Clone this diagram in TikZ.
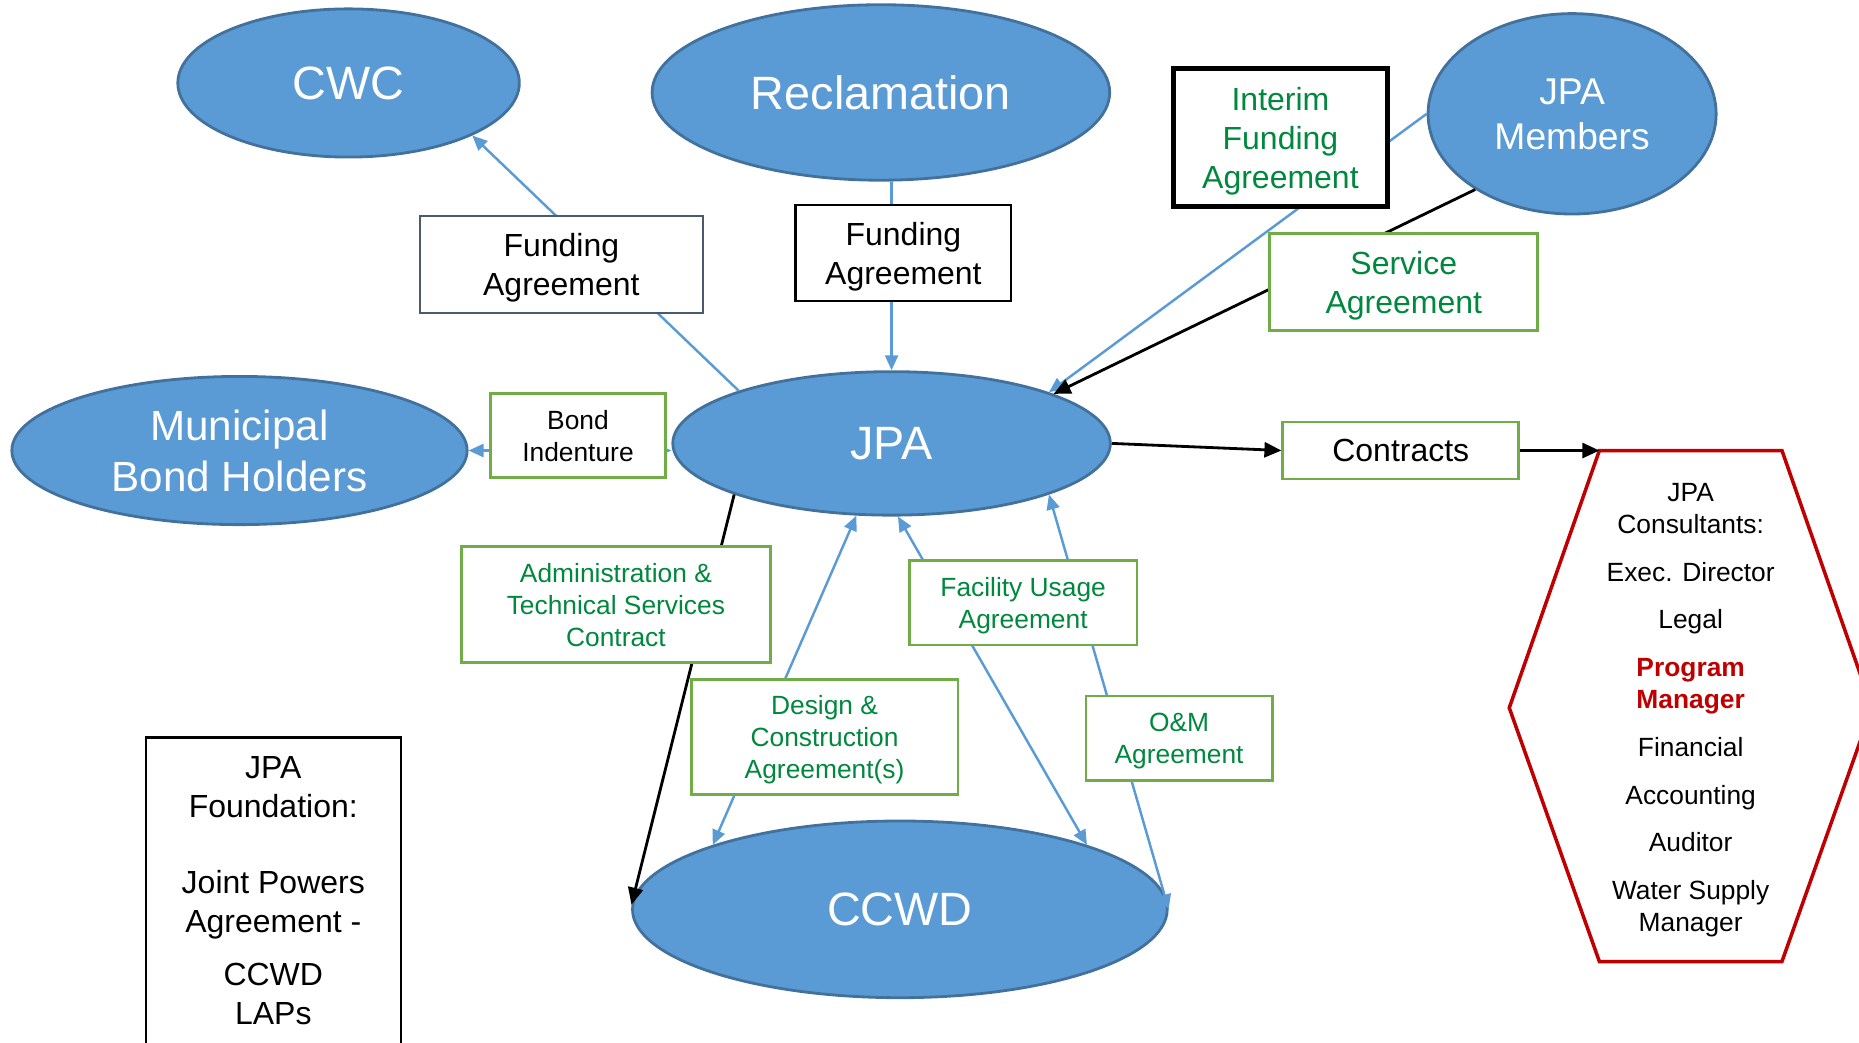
\documentclass[tikz,border=0pt]{standalone}
\usepackage{fontspec}
\setmainfont{Liberation Sans}
\usepackage{tikz}
\usetikzlibrary{shapes.geometric,arrows.meta}
\definecolor{ellfill}{HTML}{5B9BD5}
\definecolor{elldraw}{HTML}{41719C}
\definecolor{boxgreen}{HTML}{70AD47}
\definecolor{txtgreen}{HTML}{00883E}
\definecolor{slate}{HTML}{4A5B70}
\definecolor{pmred}{HTML}{C00000}
\tikzset{
	ell/.style 2 args={ellipse,minimum width=#1,minimum height=#2,inner sep=0pt,draw=elldraw,line width=0.8pt,fill=ellfill,text=white,align=center},
	abox/.style 2 args={rectangle,minimum width=#1,minimum height=#2,inner sep=0pt,draw,fill=white,line width=0.6pt,align=center,text depth=0pt},
	gbox/.style 2 args={abox={#1}{#2},draw=boxgreen,line width=0.8pt},
	bigfont/.style={font=\fontsize{13.3}{16}\selectfont},
	midfont/.style={font=\fontsize{9.1}{11.1}\selectfont},
	smallfont/.style={font=\fontsize{7.5}{9.1}\selectfont},
	bline/.style={draw=ellfill,line width=0.7pt},
	oneway/.style={bline,-{Triangle[length=1.5mm,width=1.3mm]}},
	twoway/.style={bline,{Triangle[length=1.5mm,width=1.3mm]}-{Triangle[length=1.5mm,width=1.3mm]}},
	blk/.style={line width=0.8pt,-{Triangle[length=1.7mm,width=1.5mm]}}
}
\begin{document}
\begin{tikzpicture}[x=0.011856cm,y=-0.011856cm]
						\useasboundingbox (0,0) rectangle (1568,879);
						\node [ell={3.415cm}{1.482cm},bigfont] (cwc) at (294,70) {CWC};
						\node [ell={4.576cm}{1.755cm},bigfont] (recl) at (743,78) {Reclamation};
						\node [ell={2.881cm}{2.004cm},font=\fontsize{10.6}{12.8}\selectfont,text depth=-2pt] (members) at (1326,96) {JPA\\Members};
						\node [ell={4.553cm}{1.482cm},font=\fontsize{12}{14.5}\selectfont] (bondh) at (202,380) {Municipal\\Bond Holders};
						\node [ell={4.375cm}{1.435cm},bigfont] (jpa) at (752,374) {JPA};
						\node [ell={5.347cm}{1.767cm},bigfont] (ccwd) at (759,767) {CCWD};
						\node [gbox={2.359cm}{0.569cm},midfont] (contracts) at (1181.5,380) {Contracts};

						\coordinate (h1) at (1349,380);
						\coordinate (h2) at (1503,380);
						\coordinate (h3) at (1579,597);
						\coordinate (h4) at (1503,811);
						\coordinate (h5) at (1349,811);
						\coordinate (h6) at (1273,597);
						\draw [pmred,line width=1pt] (h1) -- (h2) -- (h3) -- (h4) -- (h5) -- (h6) -- cycle;
						\node [smallfont,align=center] (cons) at (1426,599) {JPA\\Consultants:\\[4.5pt]Exec. Director\\[4.5pt]Legal\\[4.5pt]\textcolor{pmred}{\textbf{Program}}\\\textcolor{pmred}{\textbf{Manager}}\\[4.5pt]Financial\\[4.5pt]Accounting\\[4.5pt]Auditor\\[4.5pt]Water Supply\\Manager};

						\draw [oneway] (jpa.161) -- (cwc.-23);
						\draw [oneway] (recl.south -| jpa.north) -- (jpa.north);
						\draw [oneway] (members.west) -- (jpa.18);
						\draw [blk] (members.218) -- (jpa.17);
						\draw [twoway] (bondh.east) -- (jpa.west |- bondh.east);
						\draw [blk] (jpa.east) -- (contracts.west);
						\draw [blk] (contracts.east) -- (h1);
						\draw [blk] (jpa.198) -- (ccwd.179);
						\draw [twoway] (ccwd.161) -- (jpa.244);
						\draw [twoway] (jpa.275) -- (ccwd.19);
						\draw [twoway] (jpa.342) -- (ccwd.east);

						\node [abox={2.834cm}{0.972cm},draw=slate,midfont] (fundl) at (473.5,223) {Funding\\Agreement};
						\node [abox={2.158cm}{0.960cm},midfont] (fundm) at (762,213.5) {Funding\\Agreement};
						\node [abox={2.134cm}{1.375cm},line width=1.4pt,midfont,text=txtgreen] (interim) at (1080,116) {Interim\\Funding\\Agreement};
						\node [gbox={2.679cm}{0.972cm},midfont,text=txtgreen] (service) at (1184,238) {Service\\Agreement};
						\node [gbox={1.743cm}{0.842cm},smallfont] (bond) at (487.5,367.5) {Bond\\Indenture};
						\node [gbox={3.094cm}{1.162cm},smallfont,text=txtgreen] (admin) at (519.5,510) {Administration \&\\Technical Services\\Contract};
						\node [gbox={2.276cm}{0.842cm},smallfont,text=txtgreen] (facility) at (863,508.5) {Facility Usage\\Agreement};
						\node [gbox={2.668cm}{1.150cm},smallfont,text=txtgreen] (design) at (695.5,621.5) {Design \&\\Construction\\Agreement(s)};
						\node [gbox={1.861cm}{0.842cm},smallfont,text=txtgreen] (om) at (994.5,622.5) {O\&M\\Agreement};
						\node [abox={2.549cm}{3.07cm},midfont] (found) at (230.5,751.5) {JPA\\Foundation:\\[10.5pt]Joint Powers\\Agreement -\\[4pt]CCWD\\LAPs};
					\end{tikzpicture}
\end{document}
